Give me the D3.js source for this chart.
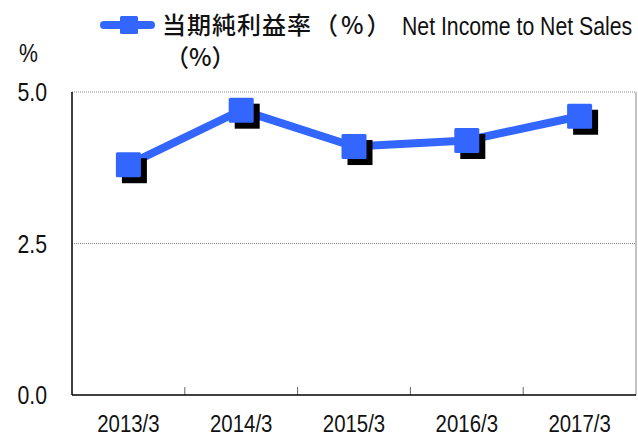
<!DOCTYPE html>
<html>
<head>
<meta charset="utf-8">
<script src="https://cdn.jsdelivr.net/npm/d3@7"></script>
<style>
  body { margin: 0; background: #fff; }
  svg { display: block; }
</style>
</head>
<body>
<div id="chart"></div>
<script>
// chart data
var years = ["2013/3", "2014/3", "2015/3", "2016/3", "2017/3"];
var netIncomeRatio = [3.8, 4.7, 4.1, 4.2, 4.6];
var yTicks = [0, 2.5, 5.0];
var seriesLabelJa = "当期純利益率";
var seriesLabelEn = "Net Income to Net Sales";

var W = 638, H = 438;
var margin = { top: 92, right: 2, bottom: 43, left: 72 };
var width = W - margin.left - margin.right;
var height = H - margin.top - margin.bottom;

var sans = "'Liberation Sans', Arial, sans-serif";
var jp = "'Noto Sans CJK JP', sans-serif";
var squeeze = 0.85; // fake a narrow face
var blue = "#3366ff";

var svg = d3.select("#chart").append("svg")
       .attr("width", W)
       .attr("height", H);

// narrow text: squeeze horizontally around the anchor point
function narrowText(parent, x, y, anchor, str, size) {
       return parent.append("text")
              .attr("transform", "translate(" + x + "," + y + ") scale(" + squeeze + ",1)")
              .attr("text-anchor", anchor)
              .style("font", size + "px " + sans)
              .style("fill", "#111")
              .text(str);
}

var g = svg.append("g")
       .attr("transform", "translate(" + margin.left + "," + margin.top + ")");

var x = d3.scaleBand().domain(years).range([0, width]);
var y = d3.scaleLinear().domain([0, 5]).range([height, 0]);

// gridlines (dotted gray)
g.selectAll(".grid").data(yTicks.filter(function (d) { return d > 0; }))
       .enter().append("line")
       .attr("x1", 0).attr("x2", width)
       .attr("y1", function (d) { return y(d); })
       .attr("y2", function (d) { return y(d); })
       .style("stroke", "#888")
       .style("stroke-width", 1)
       .style("stroke-dasharray", "1,1");

// right border
g.append("line")
       .attr("x1", width).attr("x2", width)
       .attr("y1", 0).attr("y2", height)
       .style("stroke", "#888");

// category boundary ticks (inside, upward)
g.selectAll(".xtick").data(years.slice(1))
       .enter().append("line")
       .attr("x1", function (d) { return x(d); })
       .attr("x2", function (d) { return x(d); })
       .attr("y1", height).attr("y2", height - 8)
       .style("stroke", "#666");

// axes lines
g.append("line").attr("x1", 0).attr("x2", 0).attr("y1", 0).attr("y2", height)
       .style("stroke", "#000").style("stroke-width", 1.5);
g.append("line").attr("x1", 0).attr("x2", width).attr("y1", height).attr("y2", height)
       .style("stroke", "#000").style("stroke-width", 1.5);

// y tick labels
yTicks.forEach(function (d) {
       narrowText(g, -25, y(d) + 9, "end", d.toFixed(1), 25);
});

// x labels
years.forEach(function (d) {
       narrowText(g, x(d) + x.bandwidth() / 2, height + 37, "middle", d, 24);
});

// unit label
narrowText(svg, 19, 62, "start", "%", 25);

var pts = years.map(function (d, i) { return { year: d, v: netIncomeRatio[i] }; });
var cx = function (d) { return x(d.year) + x.bandwidth() / 2; };

// line
g.append("path")
       .datum(pts)
       .attr("d", d3.line().x(cx).y(function (d) { return y(d.v); }))
       .style("stroke", blue)
       .style("stroke-width", 8)
       .style("fill", "none");

// marker shadows
var ms = 25;
g.selectAll(".shadow").data(pts)
       .enter().append("rect")
       .attr("x", function (d) { return cx(d) - ms / 2 + 6; })
       .attr("y", function (d) { return y(d.v) - ms / 2 + 6; })
       .attr("width", ms).attr("height", ms)
       .style("fill", "#000");

// markers
g.selectAll(".marker").data(pts)
       .enter().append("rect")
       .attr("x", function (d) { return cx(d) - ms / 2; })
       .attr("y", function (d) { return y(d.v) - ms / 2; })
       .attr("width", ms).attr("height", ms)
       .attr("rx", 1.5)
       .style("fill", blue);

// legend
var lg = svg.append("g").attr("transform", "translate(100,25)");
lg.append("line")
       .attr("x1", 4).attr("x2", 51).attr("y1", 0).attr("y2", 0)
       .style("stroke", blue).style("stroke-width", 8)
       .style("stroke-linecap", "round");
lg.append("rect")
       .attr("x", 20).attr("y", -9).attr("width", 18).attr("height", 18)
       .attr("rx", 1.5)
       .style("fill", blue);
var lt = lg.append("text")
       .attr("x", 62).attr("y", 9)
       .style("font", "500 24px " + jp)
       .style("fill", "#111");
lt.append("tspan").style("letter-spacing", "1px").text(seriesLabelJa);
lt.append("tspan").attr("dx", 2).style("letter-spacing", "3px").text("（%）");
narrowText(lg, 302, 10, "start", seriesLabelEn, 25);
lg.append("text")
       .attr("x", 65).attr("y", 41)
       .style("font", "500 24px " + jp)
       .style("fill", "#111")
       .text("（%）");
</script>
</body>
</html>
